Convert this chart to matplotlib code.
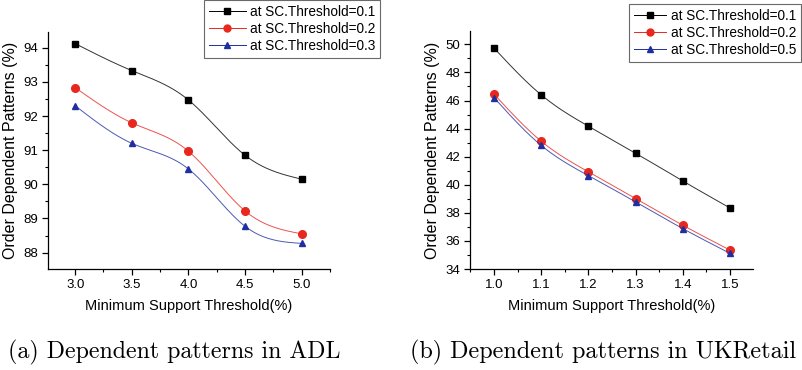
import numpy as np
import matplotlib
matplotlib.use("Agg")
import matplotlib.pyplot as plt
from matplotlib.ticker import MultipleLocator, FormatStrFormatter

# ---- data ----
adl_x = [3.0, 3.5, 4.0, 4.5, 5.0]
adl_s1 = [94.12, 93.33, 92.47, 90.85, 90.15]
adl_s2 = [92.83, 91.80, 90.97, 89.22, 88.55]
adl_s3 = [92.30, 91.20, 90.45, 88.77, 88.27]
adl_labels = ["at SC.Threshold=0.1", "at SC.Threshold=0.2", "at SC.Threshold=0.3"]

uk_x = [1.0, 1.1, 1.2, 1.3, 1.4, 1.5]
uk_s1 = [49.73, 46.40, 44.17, 42.25, 40.27, 38.35]
uk_s2 = [46.45, 43.10, 40.92, 39.02, 37.12, 35.35]
uk_s3 = [46.20, 42.80, 40.65, 38.78, 36.88, 35.12]
uk_labels = ["at SC.Threshold=0.1", "at SC.Threshold=0.2", "at SC.Threshold=0.5"]

xlabel = "Minimum Support Threshold(%)"
ylabel = "Order Dependent Patterns (%)"
captions = ["(a) Dependent patterns in ADL", "(b) Dependent patterns in UKRetail"]


def natural_spline(x, y, n=200):
    x = np.asarray(x, float); y = np.asarray(y, float)
    k = len(x); h = np.diff(x)
    A = np.zeros((k, k)); b = np.zeros(k)
    A[0, 0] = 1; A[-1, -1] = 1
    for i in range(1, k - 1):
        A[i, i - 1] = h[i - 1]; A[i, i] = 2 * (h[i - 1] + h[i]); A[i, i + 1] = h[i]
        b[i] = 3 * ((y[i + 1] - y[i]) / h[i] - (y[i] - y[i - 1]) / h[i - 1])
    c = np.linalg.solve(A, b)
    xs = np.linspace(x[0], x[-1], n); ys = np.empty_like(xs)
    for j, xv in enumerate(xs):
        i = min(np.searchsorted(x, xv, side="right") - 1, k - 2)
        d = xv - x[i]
        bb = (y[i + 1] - y[i]) / h[i] - h[i] * (2 * c[i] + c[i + 1]) / 3
        dd = (c[i + 1] - c[i]) / (3 * h[i])
        ys[j] = y[i] + bb * d + c[i] * d ** 2 + dd * d ** 3
    return xs, ys


W, H = 803, 370
fig = plt.figure(figsize=(W / 100, H / 100), dpi=100)
sans = ["Liberation Sans", "DejaVu Sans"]
narrow = ["Liberation Sans Narrow", "Liberation Sans", "DejaVu Sans"]

colors = ["#000000", "#e8281e", "#1f2fa0"]
markers = ["s", "o", "^"]


def px_axes(x0, x1, ytop, ybot):
    return fig.add_axes([x0 / W, 1 - ybot / H, (x1 - x0) / W, (ybot - ytop) / H])


def style(ax, xlim, ylim, xmaj, xmin, ymaj, ymin, xfmt, yfmt):
    ax.set_xlim(*xlim); ax.set_ylim(*ylim)
    for s in ["top", "right"]:
        ax.spines[s].set_visible(False)
    for s in ["left", "bottom"]:
        ax.spines[s].set_linewidth(0.9)
    ax.xaxis.set_major_locator(MultipleLocator(xmaj))
    ax.xaxis.set_minor_locator(MultipleLocator(xmin))
    ax.yaxis.set_major_locator(MultipleLocator(ymaj))
    ax.yaxis.set_minor_locator(MultipleLocator(ymin))
    ax.xaxis.set_major_formatter(FormatStrFormatter(xfmt))
    ax.yaxis.set_major_formatter(FormatStrFormatter(yfmt))
    ax.tick_params(which="major", direction="out", length=4, width=0.9, labelsize=9.5, pad=3)
    ax.tick_params(which="minor", direction="out", length=2.5, width=0.8)
    for t in ax.get_xticklabels() + ax.get_yticklabels():
        t.set_family(sans)
    ax.set_xlabel(xlabel, family=narrow, fontsize=10.5, labelpad=6)
    ax.set_ylabel(ylabel, family=sans, fontsize=11.5, labelpad=4)


def draw(ax, x, series):
    handles = []
    for s, c, m in zip(series, colors, markers):
        xs, ys = natural_spline(x, s)
        ax.plot(xs, ys, color=c, lw=0.7, alpha=0.8)
        ax.plot(x, s, ls="none", marker=m, color=c, ms=5 if m != "o" else 5.5, mec=c)
        h, = ax.plot([], [], color=c, lw=0.7, marker=m, ms=5, mec=c)
        handles.append(h)
    return handles


def legend(handles, labels, x0, ytop, hl):
    leg = fig.legend(handles, labels, loc="upper left", bbox_to_anchor=(x0 / W, 1 - ytop / H),
                     frameon=True, fancybox=False, prop={"family": sans, "size": 9.8},
                     handlelength=hl, handletextpad=0.35, labelspacing=0.22, borderpad=0.35,
                     borderaxespad=0)
    leg.get_frame().set_edgecolor("#444444"); leg.get_frame().set_linewidth(0.8)


ax1 = px_axes(48, 330, 32, 269)
hs = draw(ax1, adl_x, [adl_s1, adl_s2, adl_s3])
style(ax1, (2.76, 5.25), (87.52, 94.46), 0.5, 0.25, 1, 0.5, "%.1f", "%d")
legend(hs, adl_labels, 204, 0, 2.7)

ax2 = px_axes(470, 753, 31, 269)
hs = draw(ax2, uk_x, [uk_s1, uk_s2, uk_s3])
style(ax2, (0.949, 1.549), (34, 50.95), 0.1, 0.05, 2, 1, "%.1f", "%d")
legend(hs, uk_labels, 629, 4, 2.4)

fig.text(174 / W, 1 - 352 / H, captions[0], family=["cmr10", "DejaVu Serif"], fontsize=17.2,
         ha="center", va="center")
fig.text(603 / W, 1 - 352 / H, captions[1], family=["cmr10", "DejaVu Serif"], fontsize=17.4,
         ha="center", va="center")

fig.savefig("out.png", dpi=100)
